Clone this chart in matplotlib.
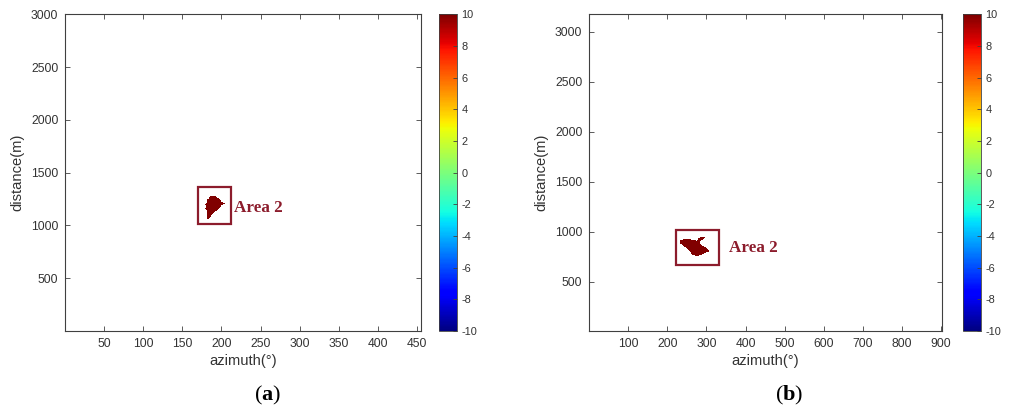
import numpy as np
import matplotlib
matplotlib.use('Agg')
import matplotlib.pyplot as plt
from matplotlib.path import Path
from matplotlib.patches import Rectangle

# ---------------- data ----------------
# panel (a)
a_xlim = (0.5, 455.5)
a_ylim = (0, 3000)
a_xticks = [50, 100, 150, 200, 250, 300, 350, 400, 450]
a_yticks = [500, 1000, 1500, 2000, 2500, 3000]
blob_a_az = [186, 192.5, 197, 200, 204, 199.5, 196.5, 193, 190, 187.5,
             185.5, 181.5, 182.5, 180.5, 181.5, 179, 180.5, 179, 180.5, 180.5, 183]
blob_a_dist = [1272, 1276, 1255, 1230, 1204, 1183, 1157, 1138, 1118, 1098,
               1072, 1058, 1090, 1112, 1136, 1157, 1176, 1195, 1214, 1234, 1254]
box_a = [169.7, 1012, 212, 1360]  # az0, d0, az1, d1
label_a_pos = [216, 1168]

# panel (b)
b_xlim = (0.5, 901.8)
b_ylim = (7, 3173)
b_xticks = [100, 200, 300, 400, 500, 600, 700, 800, 900]
b_yticks = [500, 1000, 1500, 2000, 2500, 3000]
blob_b_az = [234, 250.9, 266.2, 274.9, 280, 286.7, 296, 292, 285.2, 282, 289,
             300, 309, 300, 289, 276.5, 265, 258, 249, 241, 234]
blob_b_dist = [920, 930, 920, 912, 936, 952, 946, 924, 910, 890, 862,
               842, 808, 792, 770, 758, 768, 800, 838, 860, 882]
box_b = [221, 667, 332, 1014]
label_b_pos = [356.8, 837]

blob_value = 10
cbar_lim = (-10, 10)
cbar_ticks = [-10, -8, -6, -4, -2, 0, 2, 4, 6, 8, 10]
area_label = "Area 2"
panel_labels = ["a", "b"]

# ---------------- style ----------------
plt.rcParams['font.family'] = ['Liberation Sans', 'DejaVu Sans']
plt.rcParams['axes.unicode_minus'] = False
plt.rcParams['mathtext.fontset'] = 'custom'
plt.rcParams['mathtext.rm'] = 'Liberation Serif'
plt.rcParams['mathtext.bf'] = 'Liberation Serif:bold'

W, H = 1014, 412
fig = plt.figure(figsize=(W / 100, H / 100), dpi=100)
fig.patch.set_facecolor('white')

spine_c = '#404040'
text_c = '#333333'
ann_c = '#8c1c2c'


def field(xlim, ylim, nx, ny, poly_x, poly_y, val):
    xs = np.linspace(xlim[0], xlim[1], nx)
    ys = np.linspace(ylim[0], ylim[1], ny)
    X, Y = np.meshgrid(xs, ys)
    path = Path(np.column_stack([poly_x, poly_y]))
    inside = path.contains_points(np.column_stack([X.ravel(), Y.ravel()])).reshape(X.shape)
    Z = np.ma.masked_where(~inside, np.full(X.shape, float(val)))
    return xs, ys, Z


def panel(ax_rect, cb_rect, xlim, ylim, xticks, yticks, bx, by, box, lpos, nx, ny):
    ax = fig.add_axes(ax_rect)
    xs, ys, Z = field(xlim, ylim, nx, ny, bx, by, blob_value)
    mesh = ax.pcolormesh(xs, ys, Z, cmap='jet', vmin=cbar_lim[0], vmax=cbar_lim[1],
                         shading='nearest', rasterized=True)
    ax.set_xlim(*xlim)
    ax.set_ylim(*ylim)
    ax.set_xticks(xticks)
    ax.set_yticks(yticks)
    ax.tick_params(direction='in', length=3.5, width=0.6, color=spine_c,
                   labelsize=8.7, labelcolor=text_c, top=True, right=True, pad=5)
    for s in ax.spines.values():
        s.set_color(spine_c)
        s.set_linewidth(0.8)
    ax.set_xlabel('azimuth(°)', fontsize=10.6, color=text_c, labelpad=3)
    ax.set_ylabel('distance(m)', fontsize=10.6, color=text_c, labelpad=5)
    ax.add_patch(Rectangle((box[0], box[1]), box[2] - box[0], box[3] - box[1],
                           fill=False, edgecolor=ann_c, linewidth=1.6))
    ax.text(lpos[0], lpos[1], area_label, family='Liberation Serif', fontweight='bold',
            fontsize=12.3, color=ann_c, ha='left', va='center')
    cax = fig.add_axes(cb_rect)
    cb = fig.colorbar(mesh, cax=cax, ticks=cbar_ticks)
    cb.outline.set_edgecolor(spine_c)
    cb.outline.set_linewidth(0.6)
    cax.tick_params(direction='in', length=3, width=0.6, color=spine_c,
                    labelsize=7.9, labelcolor=text_c, pad=3)
    return ax


bottom = 81 / H
height = 316.7 / H
panel([65.3 / W, bottom, 356 / W, height], [438.7 / W, bottom, 18.6 / W, height],
      a_xlim, a_ylim, a_xticks, a_yticks, blob_a_az, blob_a_dist, box_a, label_a_pos, 456, 600)
panel([589.3 / W, bottom, 352.4 / W, height], [962.7 / W, bottom, 18.6 / W, height],
      b_xlim, b_ylim, b_xticks, b_yticks, blob_b_az, blob_b_dist, box_b, label_b_pos, 900, 630)

for lab, xc in zip(panel_labels, [267.7, 788.7]):
    fig.text(xc / W, 1 - 395.5 / H, r'$\mathrm{(}\mathbf{%s}\mathrm{)}$' % lab,
             fontsize=16, color='black', ha='center', va='center')

fig.savefig('out.png', dpi=100, facecolor='white')
